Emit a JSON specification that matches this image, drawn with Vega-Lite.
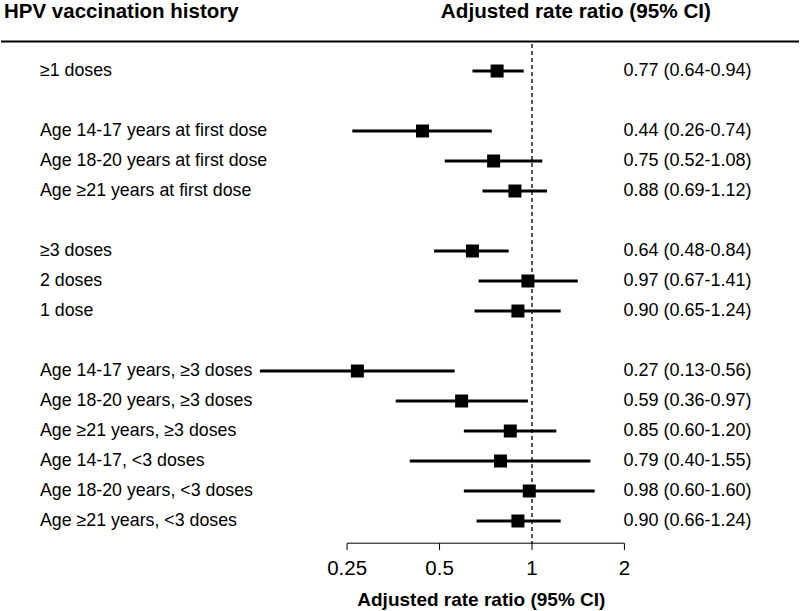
{
  "$schema": "https://vega.github.io/schema/vega-lite/v6.json",
  "width": 800,
  "height": 611,
  "autosize": {"type": "fit", "contains": "padding"},
  "padding": 0,
  "background": "white",
  "config": {"view": {"stroke": null}, "text": {"font": "Liberation Sans"}},
  "datasets": {
    "rows": [
      {"row": 0, "label": "≥1 doses", "est": 0.77, "lo": 0.64, "hi": 0.94, "ci": "0.77 (0.64-0.94)"},
      {"row": 2, "label": "Age 14-17 years at first dose", "est": 0.44, "lo": 0.26, "hi": 0.74, "ci": "0.44 (0.26-0.74)"},
      {"row": 3, "label": "Age 18-20 years at first dose", "est": 0.75, "lo": 0.52, "hi": 1.08, "ci": "0.75 (0.52-1.08)"},
      {"row": 4, "label": "Age ≥21 years at first dose", "est": 0.88, "lo": 0.69, "hi": 1.12, "ci": "0.88 (0.69-1.12)"},
      {"row": 6, "label": "≥3 doses", "est": 0.64, "lo": 0.48, "hi": 0.84, "ci": "0.64 (0.48-0.84)"},
      {"row": 7, "label": "2 doses", "est": 0.97, "lo": 0.67, "hi": 1.41, "ci": "0.97 (0.67-1.41)"},
      {"row": 8, "label": "1 dose", "est": 0.90, "lo": 0.65, "hi": 1.24, "ci": "0.90 (0.65-1.24)"},
      {"row": 10, "label": "Age 14-17 years, ≥3 doses", "est": 0.27, "lo": 0.13, "hi": 0.56, "ci": "0.27 (0.13-0.56)"},
      {"row": 11, "label": "Age 18-20 years, ≥3 doses", "est": 0.59, "lo": 0.36, "hi": 0.97, "ci": "0.59 (0.36-0.97)"},
      {"row": 12, "label": "Age ≥21 years, ≥3 doses", "est": 0.85, "lo": 0.60, "hi": 1.20, "ci": "0.85 (0.60-1.20)"},
      {"row": 13, "label": "Age 14-17, <3 doses", "est": 0.79, "lo": 0.40, "hi": 1.55, "ci": "0.79 (0.40-1.55)"},
      {"row": 14, "label": "Age 18-20 years, <3 doses", "est": 0.98, "lo": 0.60, "hi": 1.60, "ci": "0.98 (0.60-1.60)"},
      {"row": 15, "label": "Age ≥21 years, <3 doses", "est": 0.90, "lo": 0.66, "hi": 1.24, "ci": "0.90 (0.66-1.24)"}
    ],
    "ticks": [
      {"tick": 0.25, "tl": "0.25"},
      {"tick": 0.5, "tl": "0.5"},
      {"tick": 1, "tl": "1"},
      {"tick": 2, "tl": "2"}
    ]
  },
  "layer": [
    {
      "data": {"name": "rows"},
      "mark": {"type": "rule", "color": "#555555", "strokeWidth": 1, "strokeDash": [4, 3]},
      "encoding": {
        "x": {"datum": 1, "type": "quantitative", "scale": {"type": "log", "domain": [0.018657, 7.406], "nice": false, "zero": false}, "axis": null},
        "y": {"datum": -0.9, "type": "quantitative", "scale": {"type": "linear", "domain": [-2.3667, 18], "reverse": true, "nice": false, "zero": false}, "axis": null},
        "y2": {"datum": 15.74}
      }
    },
    {
      "data": {"name": "rows"},
      "mark": {"type": "rule", "color": "black", "strokeWidth": 3},
      "encoding": {
        "x": {"field": "lo", "type": "quantitative"},
        "x2": {"field": "hi"},
        "y": {"field": "row", "type": "quantitative"}
      }
    },
    {
      "data": {"name": "rows"},
      "mark": {"type": "point", "shape": "square", "filled": true, "color": "black", "opacity": 1, "size": 169},
      "encoding": {
        "x": {"field": "est", "type": "quantitative"},
        "y": {"field": "row", "type": "quantitative"}
      }
    },
    {
      "data": {"name": "rows"},
      "mark": {"type": "text", "align": "left", "baseline": "middle", "fontSize": 17.8, "color": "black"},
      "encoding": {
        "x": {"datum": 0.02498, "type": "quantitative"},
        "y": {"field": "row", "type": "quantitative"},
        "text": {"field": "label"}
      }
    },
    {
      "data": {"name": "rows"},
      "mark": {"type": "text", "align": "left", "baseline": "middle", "fontSize": 18, "color": "black"},
      "encoding": {
        "x": {"datum": 1.985, "type": "quantitative"},
        "y": {"field": "row", "type": "quantitative"},
        "text": {"field": "ci"}
      }
    },
    {
      "data": {"values": [{"t": "HPV vaccination history"}]},
      "mark": {"type": "text", "align": "left", "baseline": "middle", "fontSize": 20.5, "fontWeight": "bold", "color": "black"},
      "encoding": {
        "x": {"datum": 0.01908, "type": "quantitative"},
        "y": {"datum": -1.967, "type": "quantitative"},
        "text": {"field": "t"}
      }
    },
    {
      "data": {"values": [{"t": "Adjusted rate ratio (95% CI)"}]},
      "mark": {"type": "text", "align": "center", "baseline": "middle", "fontSize": 20.7, "fontWeight": "bold", "color": "black"},
      "encoding": {
        "x": {"datum": 1.39, "type": "quantitative"},
        "y": {"datum": -1.967, "type": "quantitative"},
        "text": {"field": "t"}
      }
    },
    {
      "data": {"values": [{"a": 1}]},
      "mark": {"type": "rule", "color": "black", "strokeWidth": 2},
      "encoding": {
        "x": {"datum": 0.018657, "type": "quantitative"},
        "x2": {"datum": 7.406},
        "y": {"datum": -0.983, "type": "quantitative"}
      }
    },
    {
      "data": {"values": [{"a": 1}]},
      "mark": {"type": "rule", "color": "black", "strokeWidth": 1},
      "encoding": {
        "x": {"datum": 0.25, "type": "quantitative"},
        "x2": {"datum": 2},
        "y": {"datum": 15.74, "type": "quantitative"}
      }
    },
    {
      "data": {"name": "ticks"},
      "mark": {"type": "rule", "color": "black", "strokeWidth": 1},
      "encoding": {
        "x": {"field": "tick", "type": "quantitative"},
        "y": {"datum": 15.74, "type": "quantitative"},
        "y2": {"datum": 15.97}
      }
    },
    {
      "data": {"name": "ticks"},
      "mark": {"type": "text", "align": "center", "baseline": "middle", "fontSize": 20.5, "color": "black"},
      "encoding": {
        "x": {"field": "tick", "type": "quantitative"},
        "y": {"datum": 16.59, "type": "quantitative"},
        "text": {"field": "tl"}
      }
    },
    {
      "data": {"values": [{"t": "Adjusted rate ratio (95% CI)"}]},
      "mark": {"type": "text", "align": "center", "baseline": "middle", "fontSize": 19, "fontWeight": "bold", "color": "black"},
      "encoding": {
        "x": {"datum": 0.684, "type": "quantitative"},
        "y": {"datum": 17.63, "type": "quantitative"},
        "text": {"field": "t"}
      }
    }
  ]
}
